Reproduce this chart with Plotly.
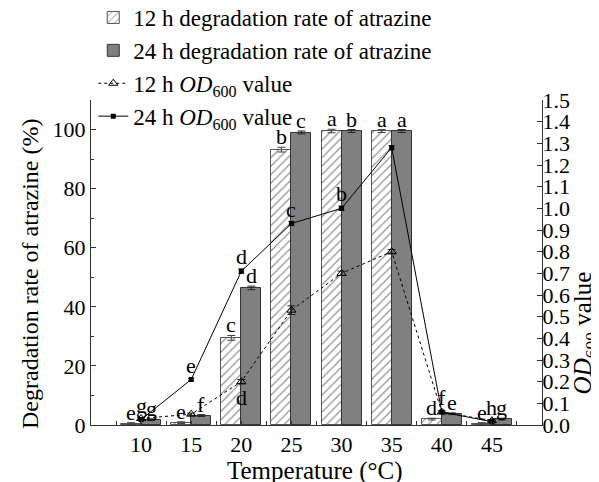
import plotly.graph_objects as go

temps = [10, 15, 20, 25, 30, 35, 40, 45]
deg_12h = [0.5, 0.8, 29.5, 93.2, 99.5, 99.5, 2.0, 0.5]
deg_12h_err = [0.3, 0.3, 0.8, 0.8, 0.6, 0.5, 0.3, 0.3]
deg_24h = [1.8, 3.2, 46.4, 99.0, 99.5, 99.5, 3.8, 2.0]
deg_24h_err = [0.3, 0.3, 0.6, 0.5, 0.5, 0.5, 0.3, 0.3]
od_12h = [0.03, 0.05, 0.20, 0.53, 0.70, 0.80, 0.06, 0.02]
od_12h_err = [0.005, 0.005, 0.01, 0.02, 0.01, 0.01, 0.005, 0.005]
od_24h = [0.025, 0.21, 0.71, 0.93, 1.00, 1.28, 0.06, 0.015]
od_24h_err = [0.005, 0.005, 0.01, 0.01, 0.01, 0.01, 0.005, 0.005]

let_12h = ['e', 'e', 'c', 'b', 'a', 'a', 'd', 'e']
let_24h = ['g', 'f', 'd', 'c', 'b', 'a', 'e', 'g']
let_od24 = ['g', 'e', 'd', 'c', 'b', '', 'f', 'h']
let_od12 = ['', '', 'd', '', '', '', '', '']

FONT = "Liberation Serif"
OD = "<i>OD</i><sub>600</sub>"

fig = go.Figure()
fig.add_trace(go.Bar(
    x=temps, y=deg_12h, width=2, offset=-2,
    name="12 h degradation rate of atrazine",
    marker=dict(color="white", line=dict(color="#555", width=1),
                pattern=dict(shape="/", fgcolor="#222", size=6, solidity=0.2)),
    error_y=dict(type="data", array=deg_12h_err, color="#444", thickness=1, width=4),
))
fig.add_trace(go.Bar(
    x=temps, y=deg_24h, width=2, offset=0,
    name="24 h degradation rate of atrazine",
    marker=dict(color="#808080", line=dict(color="#333", width=1)),
    error_y=dict(type="data", array=deg_24h_err, color="#222", thickness=1, width=4),
))
fig.add_trace(go.Scatter(
    x=temps, y=od_12h, yaxis="y2", mode="lines+markers",
    name="12 h " + OD + " value",
    line=dict(color="black", width=1, dash="dot"),
    marker=dict(symbol="triangle-up-open", size=8, color="black", line=dict(width=1)),
    error_y=dict(type="data", array=od_12h_err, color="#222", thickness=1, width=4),
))
fig.add_trace(go.Scatter(
    x=temps, y=od_24h, yaxis="y2", mode="lines+markers",
    name="24 h " + OD + " value",
    line=dict(color="black", width=1),
    marker=dict(symbol="square", size=5, color="black"),
    error_y=dict(type="data", array=od_24h_err, color="#222", thickness=1, width=3),
))

ann = []
for t, v, e, l in zip(temps, deg_12h, deg_12h_err, let_12h):
    if l:
        ann.append(dict(x=t - 1, y=v + e, yref="y", text=l, yanchor="bottom", yshift=-4))
for t, v, e, l in zip(temps, deg_24h, deg_24h_err, let_24h):
    if l:
        ann.append(dict(x=t + 1, y=v + e, yref="y", text=l, yanchor="bottom", yshift=-4))
for t, v, l in zip(temps, od_24h, let_od24):
    if l:
        ann.append(dict(x=t, y=v, yref="y2", text=l, yanchor="bottom", yshift=0))
for t, v, l in zip(temps, od_12h, let_od12):
    if l:
        ann.append(dict(x=t, y=v, yref="y2", text=l, yanchor="top", yshift=-1))
for a in ann:
    a.update(xref="x", showarrow=False, font=dict(family=FONT, size=22, color="black"))

ann.append(dict(xref="paper", yref="paper", x=1.094, y=0.283, text=OD + " value",
                textangle=-90, showarrow=False, xanchor="center", yanchor="middle",
                font=dict(family=FONT, size=25, color="black")))
ann.append(dict(xref="paper", yref="paper", x=-0.135, y=0.465,
                text="Degradation rate of atrazine (%)",
                textangle=-90, showarrow=False, xanchor="center", yanchor="middle",
                font=dict(family=FONT, size=24, color="black")))
ann.append(dict(xref="paper", yref="paper", x=0.497, y=-0.1415,
                text="Temperature (°C)", showarrow=False,
                xanchor="center", yanchor="middle",
                font=dict(family=FONT, size=25, color="black")))

fig.update_layout(
    width=599, height=482,
    margin=dict(l=83, r=65, t=92, b=65, autoexpand=False),
    paper_bgcolor="white", plot_bgcolor="white",
    font=dict(family=FONT, size=22, color="black"),
    showlegend=True,
    legend=dict(x=0.005, y=1.32, xanchor="left", yanchor="top",
                bgcolor="rgba(0,0,0,0)", font=dict(family=FONT, size=23),
                tracegroupgap=0, itemwidth=30),
    annotations=ann,
    bargap=0,
    xaxis=dict(range=[5, 50], tickvals=temps, ticks="inside", ticklen=4, automargin=False,
               showline=True, linecolor="#333", linewidth=1, showgrid=False, zeroline=False,
               minor=dict(tickvals=[7.5, 12.5, 17.5, 22.5, 27.5, 32.5, 37.5, 42.5, 47.5],
                          ticks="inside", ticklen=4, tickcolor="#333"),
               tickcolor="#333",
               tickfont=dict(family=FONT, size=22)),
    yaxis=dict(range=[0, 110], dtick=20, ticks="inside", ticklen=5, tickcolor="#333",
               automargin=False,
               showline=True, linecolor="#333", linewidth=1, showgrid=False, zeroline=False,
               minor=dict(dtick=10, ticks="inside", ticklen=3, tickcolor="#333"),
               tickfont=dict(family=FONT, size=22)),
    yaxis2=dict(range=[0, 1.5], dtick=0.1, tickformat=".1f", overlaying="y", side="right",
                ticks="inside", ticklen=5, tickcolor="#333", automargin=False,
                ticklabelstandoff=-5,
                showline=True, linecolor="#333", linewidth=1, showgrid=False, zeroline=False,
                tickfont=dict(family=FONT, size=22)),
)

fig.write_html("out.html")
